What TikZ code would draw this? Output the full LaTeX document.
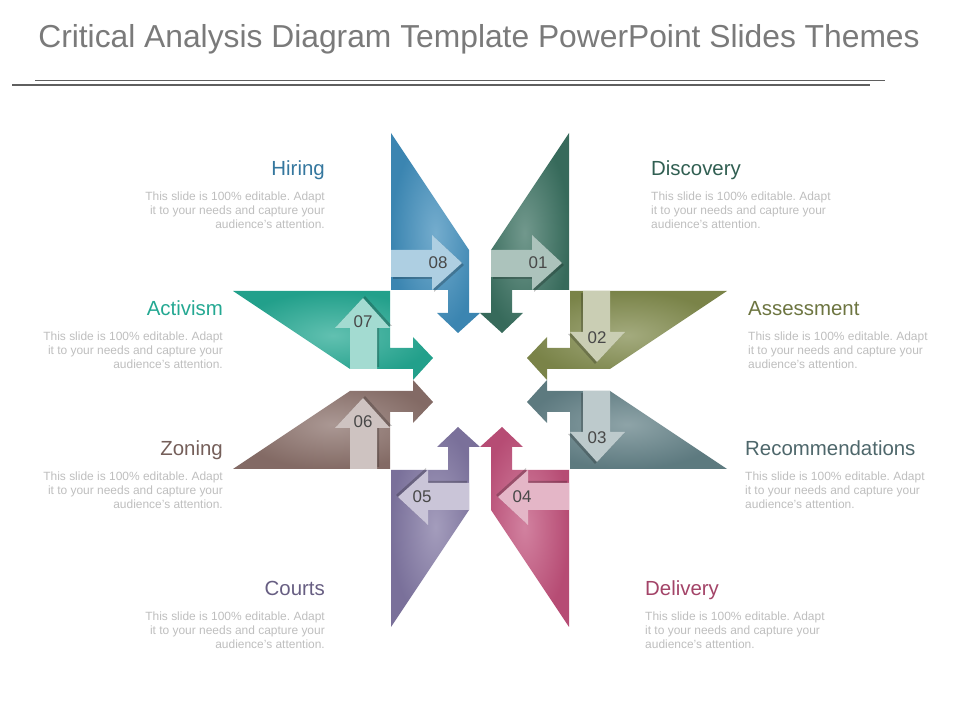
\documentclass[tikz,border=0pt]{standalone}
\usepackage{fontspec}
\setmainfont{Liberation Sans}
\usepackage{tikz}
\usetikzlibrary{positioning}
\frenchspacing

\definecolor{c08}{RGB}{62,140,186}
\definecolor{c01}{RGB}{58,112,96}
\definecolor{c02}{RGB}{128,138,76}
\definecolor{c03}{RGB}{98,128,134}
\definecolor{c04}{RGB}{192,80,122}
\definecolor{c05}{RGB}{128,118,162}
\definecolor{c06}{RGB}{138,112,106}
\definecolor{c07}{RGB}{36,168,146}
\definecolor{titlegray}{RGB}{122,122,122}
\definecolor{blurbgray}{RGB}{190,190,190}
\definecolor{numgray}{RGB}{72,72,72}
\definecolor{rulegray}{RGB}{95,95,95}

% one arrow body and one number tag, drawn for the top left arm
\newcommand{\bodypath}{(-89,247) -- (-11,130) -- (-11,67) -- (0,67) -- (-22,47)
  -- (-43,67) -- (-32,67) -- (-32,90) -- (-89,90) -- cycle}
\newcommand{\tagpath}{(-89,103) -- (-48,103) -- (-48,90) -- (-18,117)
  -- (-48,145) -- (-48,130) -- (-89,130) -- cycle}

\begin{document}
\begin{tikzpicture}[x=1bp, y=1bp,
    head/.style={font=\fontsize{20.5}{23}\selectfont, inner sep=0pt},
    blurb/.style={font=\fontsize{12}{14}\selectfont, text=blurbgray, inner sep=0pt},
    num/.style={font=\fontsize{17}{20}\selectfont, text=numgray, inner sep=0pt},
    d08/.style={}, d01/.style={xscale=-1},
    d02/.style={rotate=-90}, d03/.style={cm={0,1,1,0,(0,0)}},
    d04/.style={rotate=180}, d05/.style={yscale=-1},
    d06/.style={rotate=90}, d07/.style={cm={0,-1,-1,0,(0,0)}}]
    \useasboundingbox (0,0) rectangle (960,720);

    % title and rules
    \node[font=\fontsize{31.9}{36}\selectfont, text=titlegray, anchor=base] (title) at (479,672.5)
        {Critical Analysis Diagram Template PowerPoint Slides Themes};
    \draw[rulegray, line width=0.8bp] (35,640) -- (885,640);
    \draw[rulegray, line width=2.5bp] (12,635) -- (870,635);

    \begin{scope}[shift={(480,340)}]
        % arms
        \foreach \n in {08,01,02,03,04,05,06,07}
            \shade[d\n, inner color=c\n!72!white, outer color=c\n!95!black] \bodypath;
        % number tags
        \foreach \n/\r/\s in {08/0/0, 01/0/100, 02/-90/0, 03/-90/100,
                              04/180/0, 05/180/100, 06/90/0, 07/90/100} {
            \begin{scope}[rotate=\r, shift={(\s,0)}]
                \fill[black, opacity=0.22, shift={(2,-2)}] \tagpath;
                \fill[c\n!42!white] \tagpath;
                \node[num] (tag\n) at (-42,117) {\n};
            \end{scope}
        }
    \end{scope}

    % left column
    \node[head, text=c08!85!black, anchor=base east] (hiring) at (325,544) {Hiring};
    \node[blurb, align=right, below left=15.5bp and 0bp of hiring.base east] (hiringtxt)
        {This slide is 100\% editable. Adapt\\it to your needs and capture your\\audience’s attention.};
    \node[head, text=c07, anchor=base east] (activism) at (223,404) {Activism};
    \node[blurb, align=right, below left=15.5bp and 0bp of activism.base east] (activismtxt)
        {This slide is 100\% editable. Adapt\\it to your needs and capture your\\audience’s attention.};
    \node[head, text=c06!85!black, anchor=base east] (zoning) at (223,264) {Zoning};
    \node[blurb, align=right, below left=15.5bp and 0bp of zoning.base east] (zoningtxt)
        {This slide is 100\% editable. Adapt\\it to your needs and capture your\\audience’s attention.};
    \node[head, text=c05!80!black, anchor=base east] (courts) at (325,124) {Courts};
    \node[blurb, align=right, below left=15.5bp and 0bp of courts.base east] (courtstxt)
        {This slide is 100\% editable. Adapt\\it to your needs and capture your\\audience’s attention.};

    % right column
    \node[head, text=c01!85!black, anchor=base west] (discovery) at (651,544) {Discovery};
    \node[blurb, align=left, below right=15.5bp and 0bp of discovery.base west] (discoverytxt)
        {This slide is 100\% editable. Adapt\\it to your needs and capture your\\audience’s attention.};
    \node[head, text=c02!85!black, anchor=base west] (assessment) at (748,404) {Assessment};
    \node[blurb, align=left, below right=15.5bp and 0bp of assessment.base west] (assessmenttxt)
        {This slide is 100\% editable. Adapt\\it to your needs and capture your\\audience’s attention.};
    \node[head, text=c03!80!black, anchor=base west] (recommend) at (745,264) {Recommendations};
    \node[blurb, align=left, below right=15.5bp and 0bp of recommend.base west] (recommendtxt)
        {This slide is 100\% editable. Adapt\\it to your needs and capture your\\audience’s attention.};
    \node[head, text=c04!85!black, anchor=base west] (delivery) at (645,124) {Delivery};
    \node[blurb, align=left, below right=15.5bp and 0bp of delivery.base west] (deliverytxt)
        {This slide is 100\% editable. Adapt\\it to your needs and capture your\\audience’s attention.};
\end{tikzpicture}
\end{document}
